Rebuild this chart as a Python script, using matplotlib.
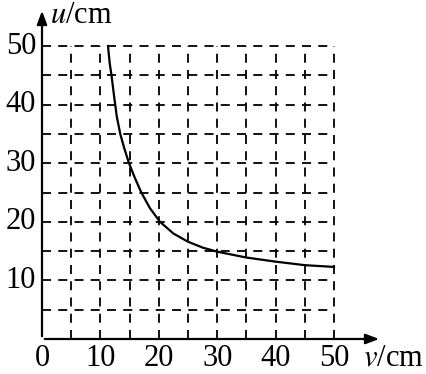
import matplotlib
matplotlib.use("Agg")
import matplotlib.pyplot as plt

# curve (v in cm, u in cm)
v_vals = [11.3, 11.6, 11.9, 12.4, 12.8, 13.4, 14.1, 14.9, 15.9, 17.0, 18.5,
          20.2, 22.5, 25.0, 27.5, 30.0, 35.0, 40.0, 45.0, 50.0]
u_vals = [50.0, 47.0, 45.0, 41.0, 38.0, 35.0, 32.5, 30.0, 27.5, 25.0, 22.3,
          20.0, 18.0, 16.6, 15.6, 14.9, 13.9, 13.2, 12.6, 12.3]

x_ticks = [0, 10, 20, 30, 40, 50]
y_ticks = [10, 20, 30, 40, 50]
grid_steps = [5, 10, 15, 20, 25, 30, 35, 40, 45, 50]

plt.rcParams['font.family'] = ['Liberation Serif', 'DejaVu Serif']
plt.rcParams['mathtext.fontset'] = 'stix'

fig = plt.figure(figsize=(4.27, 3.74), dpi=100)
W, H = 427, 374
x0, y0 = 42, 339
x1, y1 = 382, 8
ax = fig.add_axes([x0 / W, 1 - y0 / H, (x1 - x0) / W, (y0 - y1) / H])
xmax = (x1 - x0) / 5.84
ymax = (y0 - y1) / 5.86
ax.set_xlim(0, xmax)
ax.set_ylim(0, ymax)
for s in ax.spines.values():
    s.set_visible(False)
ax.set_xticks([])
ax.set_yticks([])

# dashed grid
for g in grid_steps:
    ax.plot([g, g], [0, 50], color='black', lw=1.3, ls=(0, (5, 4)))
    ax.plot([0, 50], [g, g], color='black', lw=1.3, ls=(0, (5, 4)))

# axes with arrows
ax.annotate('', xy=(xmax, 0), xytext=(0, 0),
            arrowprops=dict(arrowstyle='-|>,head_length=0.8,head_width=0.3', color='black', lw=1.6))
ax.annotate('', xy=(0, ymax), xytext=(0, 0),
            arrowprops=dict(arrowstyle='-|>,head_length=0.8,head_width=0.3', color='black', lw=1.6))

ax.plot(v_vals, u_vals, color='black', lw=1.6, solid_joinstyle='round')

fs = 22
for t in x_ticks:
    ax.text(t, -4.6, str(t), ha='center', va='baseline', fontsize=fs, clip_on=False)
for t in y_ticks:
    ax.text(-1.0, t, str(t), ha='right', va='center', fontsize=fs)

ax.text(1.4, ymax - 1.3, r'$u$/cm', ha='left', va='center', fontsize=fs)
ax.text(xmax - 3.2, -4.6, r'$v$/cm', ha='left', va='baseline', fontsize=fs, clip_on=False)

fig.savefig('out.png', dpi=100)
